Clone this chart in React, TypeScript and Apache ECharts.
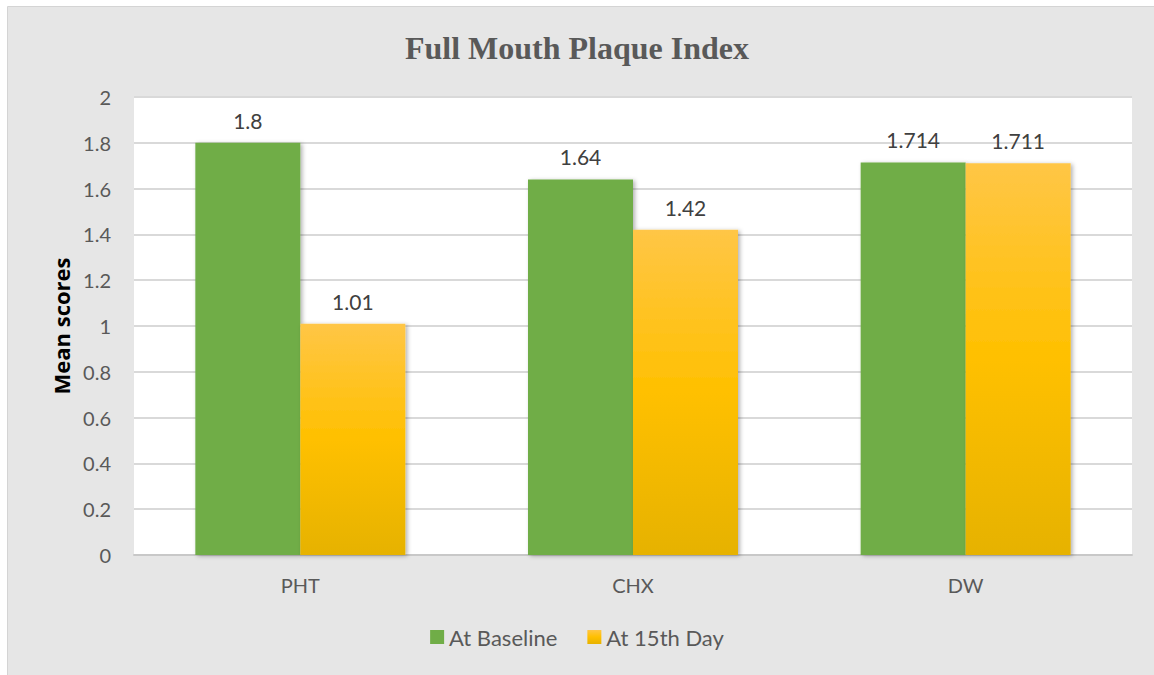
import React, { useEffect, useRef } from "react";
import * as echarts from "echarts";

const categories = ["PHT", "CHX", "DW"];
const baseline = [1.8, 1.64, 1.714];
const day15 = [1.01, 1.42, 1.711];
const yTicks = { min: 0, max: 2, interval: 0.2 };

export default function App() {
  const ref = useRef<HTMLDivElement>(null);
  useEffect(() => {
    if (!ref.current) return;
    const chart = echarts.init(ref.current, undefined, { renderer: "svg" });
    const font = "Lato, 'Open Sans', sans-serif";
    const labelStyle = {
      show: true,
      position: "top" as const,
      distance: 12,
      fontSize: 21,
      color: "#404040",
      fontFamily: font,
    };
    chart.setOption({
      animation: false,
      backgroundColor: "#ffffff",
      graphic: [
        {
          type: "rect",
          z: -10,
          shape: { x: 7.5, y: 6.5, width: 1150, height: 672 },
          style: { fill: "#e6e6e6", stroke: "#d4d4d4", lineWidth: 1 },
        },
      ],
      title: {
        text: "Full Mouth Plaque Index",
        left: "center",
        top: 27,
        textStyle: {
          fontFamily: "'Liberation Serif', 'Times New Roman', serif",
          fontWeight: "bold",
          fontSize: 32,
          color: "#595959",
        },
      },
      grid: {
        left: 134,
        right: 22,
        top: 97,
        bottom: 120,
        show: true,
        backgroundColor: "#ffffff",
        borderWidth: 0,
      },
      legend: {
        bottom: 22,
        left: "center",
        itemWidth: 14,
        itemHeight: 14,
        itemGap: 30,
        icon: "rect",
        textStyle: {
          fontSize: 22,
          color: "#595959",
          fontFamily: font,
        },
        data: ["At Baseline", "At 15th Day"],
      },
      xAxis: {
        type: "category",
        data: categories,
        axisTick: { show: false },
        axisLine: { lineStyle: { color: "#c8c8c8", width: 2 } },
        axisLabel: {
          fontSize: 20,
          color: "#595959",
          margin: 20,
          fontFamily: font,
        },
      },
      yAxis: {
        type: "value",
        min: yTicks.min,
        max: yTicks.max,
        interval: yTicks.interval,
        name: "Mean scores",
        nameLocation: "middle",
        nameGap: 62,
        nameTextStyle: {
          fontSize: 22,
          fontWeight: "bold",
          color: "#000000",
          fontFamily: "'Open Sans', Lato, sans-serif",
        },
        axisLine: { show: false },
        axisTick: { show: false },
        splitLine: { lineStyle: { color: "#d9d9d9", width: 2 } },
        axisLabel: {
          fontSize: 20,
          color: "#595959",
          margin: 23,
          fontFamily: font,
          formatter: (v: number) => String(Math.round(v * 10) / 10),
        },
      },
      series: [
        {
          name: "At Baseline",
          type: "bar",
          data: baseline,
          barWidth: 105,
          barGap: "0%",
          itemStyle: {
            color: "#70ad47",
            shadowBlur: 4,
            shadowColor: "rgba(0,0,0,0.3)",
            shadowOffsetX: 2,
            shadowOffsetY: 1,
          },
          label: labelStyle,
        },
        {
          name: "At 15th Day",
          type: "bar",
          data: day15,
          barWidth: 105,
          barGap: "0%",
          itemStyle: {
            color: new echarts.graphic.LinearGradient(0, 0, 0, 1, [
              { offset: 0, color: "#ffc646" },
              { offset: 0.5, color: "#ffc000" },
              { offset: 1, color: "#e6b200" },
            ]),
            shadowBlur: 4,
            shadowColor: "rgba(0,0,0,0.3)",
            shadowOffsetX: 2,
            shadowOffsetY: 1,
          },
          label: labelStyle,
        },
      ],
    });
    return () => chart.dispose();
  }, []);
  return (
    <div style={{ position: "absolute", left: 0, top: 0, width: 1154, height: 675 }}>
      <div ref={ref} style={{ width: 1154, height: 675 }} />
    </div>
  );
}
